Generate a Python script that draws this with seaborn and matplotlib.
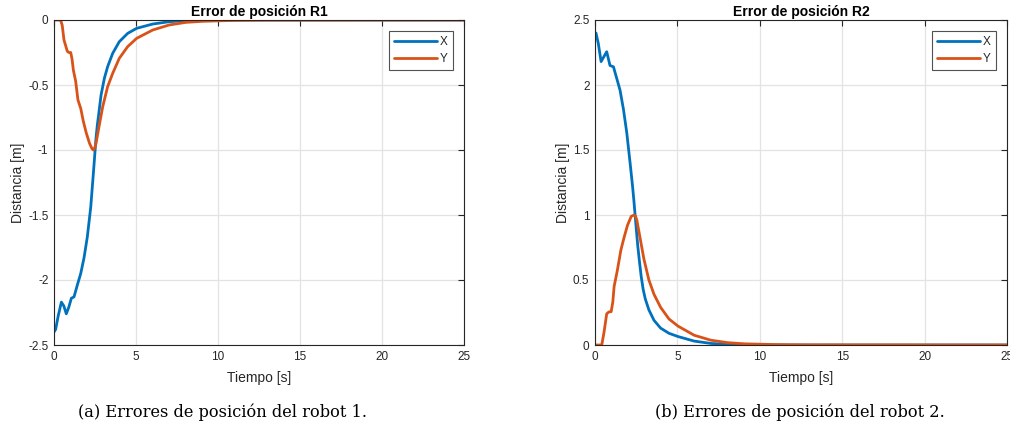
import matplotlib
matplotlib.use("Agg")
import matplotlib.pyplot as plt
import seaborn as sns
import pandas as pd
from matplotlib.ticker import FixedLocator, FixedFormatter

# ---------------- data ----------------
t_r1_x = [0, 0.1, 0.25, 0.45, 0.6, 0.75, 0.9, 1.06, 1.22, 1.42, 1.63, 1.83, 2.03, 2.24, 2.32, 2.40,
          2.46, 2.56, 2.64, 2.72, 2.87, 3.07, 3.27, 3.58, 3.98, 4.49, 5.04, 6.02, 7.03, 8.0, 9.0,
          10.5, 12, 25]
r1_x = [-2.40, -2.38, -2.28, -2.17, -2.20, -2.26, -2.21, -2.14, -2.13, -2.04, -1.95, -1.83, -1.67,
        -1.44, -1.31, -1.18, -1.08, -0.91, -0.81, -0.73, -0.577, -0.449, -0.359, -0.256, -0.167,
        -0.103, -0.064, -0.031, -0.013, -0.005, -0.002, -0.001, 0, 0]

t_r1_y = [0, 0.4, 0.5, 0.61, 0.81, 0.9, 1.02, 1.1, 1.18, 1.32, 1.46, 1.63, 1.79, 1.97, 2.17, 2.32,
          2.40, 2.48, 2.56, 2.66, 2.76, 2.97, 3.27, 3.58, 3.98, 4.49, 5.04, 6.02, 7.03, 8.05, 9.07,
          11, 13, 25]
r1_y = [0, 0, -0.04, -0.154, -0.24, -0.25, -0.25, -0.3, -0.385, -0.47, -0.615, -0.68, -0.78, -0.87,
        -0.95, -0.99, -1.0, -0.985, -0.95, -0.88, -0.81, -0.667, -0.513, -0.41, -0.295, -0.205,
        -0.141, -0.077, -0.038, -0.018, -0.01, -0.003, -0.001, 0]

t_r2_x = [0, 0.06, 0.2, 0.37, 0.55, 0.71, 0.91, 1.12, 1.32, 1.52, 1.73, 1.93, 2.13, 2.28, 2.36,
          2.44, 2.52, 2.60, 2.70, 2.80, 2.92, 3.05, 3.27, 3.58, 3.98, 4.49, 5.04, 6.02, 7.03, 8.0,
          9.0, 10.5, 12, 25]
r2_x = [2.40, 2.40, 2.32, 2.18, 2.22, 2.256, 2.15, 2.14, 2.05, 1.96, 1.81, 1.63, 1.40, 1.22, 1.11,
        0.99, 0.87, 0.756, 0.64, 0.53, 0.43, 0.355, 0.27, 0.19, 0.13, 0.09, 0.065, 0.03, 0.012,
        0.005, 0.002, 0.001, 0, 0]

t_r2_y = [0, 0.41, 0.55, 0.71, 0.85, 0.98, 1.08, 1.16, 1.36, 1.57, 1.77, 1.97, 2.20, 2.38, 2.46,
          2.54, 2.64, 2.74, 2.97, 3.27, 3.58, 3.98, 4.49, 5.04, 6.02, 7.03, 8.05, 9.07, 11, 13, 25]
r2_y = [0, 0, 0.1, 0.24, 0.255, 0.256, 0.33, 0.45, 0.577, 0.73, 0.83, 0.92, 0.99, 1.0, 0.99,
        0.96, 0.89, 0.82, 0.66, 0.50, 0.39, 0.29, 0.20, 0.145, 0.075, 0.037, 0.018, 0.009, 0.003,
        0.001, 0]

series_names = ["X", "Y"]
titles = ["Error de posición R1", "Error de posición R2"]
captions = ["(a) Errores de posición del robot 1.", "(b) Errores de posición del robot 2."]
x_ticks = [0, 5, 10, 15, 20, 25]
x_ticklabels = ["0", "5", "10", "15", "20", "25"]
y_ticks_r1 = [0, -0.5, -1, -1.5, -2, -2.5]
y_ticklabels_r1 = ["0", "-0.5", "-1", "-1.5", "-2", "-2.5"]
y_ticks_r2 = [0, 0.5, 1, 1.5, 2, 2.5]
y_ticklabels_r2 = ["0", "0.5", "1", "1.5", "2", "2.5"]
xlabel = "Tiempo [s]"
ylabel = "Distancia [m]"

# ---------------- style ----------------
sns.set_theme(style="white")
plt.rcParams["font.family"] = ["Liberation Sans", "DejaVu Sans"]
plt.rcParams["axes.unicode_minus"] = False

colors = {"X": "#0072BD", "Y": "#D95319"}
spine_col = "#262626"

fig = plt.figure(figsize=(10.10, 4.34), dpi=100)
ax1 = fig.add_axes([54 / 1010, 1 - 345 / 434, 410 / 1010, 325 / 434])
ax2 = fig.add_axes([595 / 1010, 1 - 345 / 434, 412 / 1010, 325 / 434])


def make_df(tx, vx, ty, vy):
    d1 = pd.DataFrame({"t": tx, "v": vx, "s": series_names[0]})
    d2 = pd.DataFrame({"t": ty, "v": vy, "s": series_names[1]})
    return pd.concat([d1, d2], ignore_index=True)


df1 = make_df(t_r1_x, r1_x, t_r1_y, r1_y)
df2 = make_df(t_r2_x, r2_x, t_r2_y, r2_y)

for ax, df, title, yt, ytl, ylim in [
    (ax1, df1, titles[0], y_ticks_r1, y_ticklabels_r1, (-2.5, 0)),
    (ax2, df2, titles[1], y_ticks_r2, y_ticklabels_r2, (0, 2.5)),
]:
    sns.lineplot(data=df, x="t", y="v", hue="s", palette=colors, ax=ax,
                 linewidth=2.0, sort=False, estimator=None, legend=False)
    for ln in ax.get_lines():
        ln.set_solid_joinstyle("round")
    ax.set_xlim(0, 25)
    ax.set_ylim(*ylim)
    ax.xaxis.set_major_locator(FixedLocator(x_ticks))
    ax.xaxis.set_major_formatter(FixedFormatter(x_ticklabels))
    ax.yaxis.set_major_locator(FixedLocator(yt))
    ax.yaxis.set_major_formatter(FixedFormatter(ytl))
    ax.grid(True, color="#e3e3e3", linewidth=0.9)
    ax.set_axisbelow(True)
    for sp in ax.spines.values():
        sp.set_visible(True)
        sp.set_color(spine_col)
        sp.set_linewidth(0.8)
    ax.tick_params(direction="in", length=4, width=0.8, color=spine_col,
                   top=True, right=True, labelsize=8.5, labelcolor="#262626", pad=4)
    ax.set_title(title, fontsize=10, fontweight="bold", color="black", pad=3)
    ax.set_xlabel(xlabel, fontsize=10, color="#262626", labelpad=6)
    ax.set_ylabel(ylabel, fontsize=10, color="#262626", labelpad=2)
    handles = [plt.Line2D([], [], color=colors[s], lw=2.0) for s in series_names]
    leg = ax.legend(handles, series_names, loc="upper right", fontsize=8.5, frameon=True,
                    fancybox=False, edgecolor=spine_col, handlelength=3.6, handletextpad=0.3,
                    borderpad=0.45, labelspacing=0.4, borderaxespad=0.9)
    leg.get_frame().set_linewidth(0.8)

fig.text(223 / 1010, 1 - 412 / 434, captions[0], ha="center", va="center",
         fontsize=11.7, family="DejaVu Serif", color="black")
fig.text(800 / 1010, 1 - 412 / 434, captions[1], ha="center", va="center",
         fontsize=11.7, family="DejaVu Serif", color="black")

fig.savefig("out.png", dpi=100, facecolor="white")
